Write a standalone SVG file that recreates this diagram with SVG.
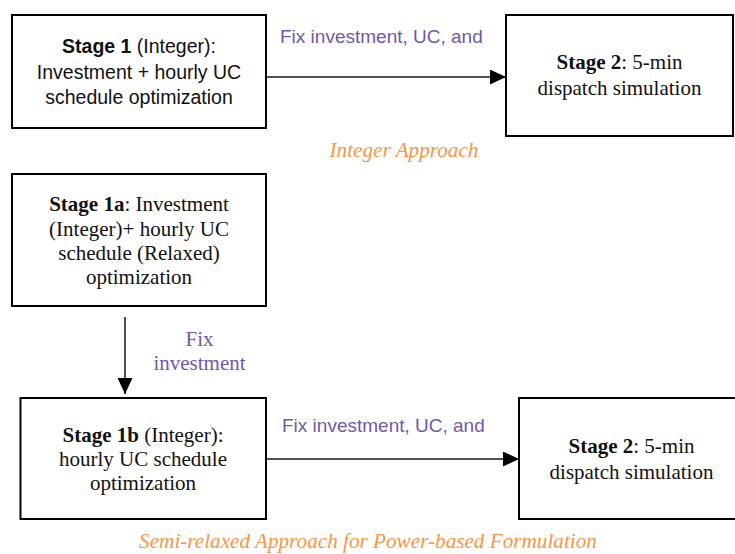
<svg xmlns="http://www.w3.org/2000/svg" width="735" height="554" viewBox="0 0 735 554">
  <style>
    .box { fill: #ffffff; stroke: #000000; stroke-width: 2; }
    .edge { fill: none; stroke: #1a1a1a; stroke-width: 1.5; }
    .sans { font-family: "Liberation Sans", Arial, sans-serif; font-size: 19.5px; fill: #111111; }
    .serif { font-family: "Liberation Serif", "Times New Roman", serif; font-size: 21px; fill: #111111; }
    .lbl-sans { font-family: "Liberation Sans", Arial, sans-serif; font-size: 19px; fill: #7258a8; }
    .lbl-serif { font-family: "Liberation Serif", "Times New Roman", serif; font-size: 21px; fill: #7258a8; }
    .caption { font-family: "Liberation Serif", "Times New Roman", serif; font-size: 21.2px; font-style: italic; fill: #f79646; }
    .mid { text-anchor: middle; }
  </style>
  <defs>
    <marker id="arrow" markerWidth="16" markerHeight="15" refX="16" refY="7.5" orient="auto" markerUnits="userSpaceOnUse">
      <path d="M0,0 L16,7.5 L0,15 Z" fill="#000000"/>
    </marker>
  </defs>

  <g id="connectors">
    <line class="edge" x1="267" y1="77" x2="506" y2="77" marker-end="url(#arrow)"/>
    <line class="edge" x1="125" y1="317" x2="125" y2="394" marker-end="url(#arrow)"/>
    <line class="edge" x1="267" y1="459" x2="519" y2="459" marker-end="url(#arrow)"/>
    <text class="lbl-sans" x="280" y="43">Fix investment, UC, and</text>
    <text class="lbl-serif mid" x="199.5" y="346">Fix</text>
    <text class="lbl-serif mid" x="199.5" y="370">investment</text>
    <text class="lbl-sans" x="282" y="432">Fix investment, UC, and</text>
  </g>

  <g id="stage1">
    <rect class="box" x="12" y="15" width="254" height="113"/>
    <text class="sans mid" x="139" y="53"><tspan font-weight="bold">Stage 1</tspan> (Integer):</text>
    <text class="sans mid" x="139" y="78.5">Investment + hourly UC</text>
    <text class="sans mid" x="139" y="104">schedule optimization</text>
  </g>

  <g id="stage2-integer">
    <rect class="box" x="506" y="15" width="227" height="121"/>
    <text class="serif mid" x="619.5" y="69"><tspan font-weight="bold">Stage 2</tspan>: 5-min</text>
    <text class="serif mid" x="619.5" y="95">dispatch simulation</text>
  </g>

  <text id="caption-integer" class="caption mid" x="404" y="157">Integer Approach</text>

  <g id="stage1a">
    <rect class="box" x="12" y="174" width="254" height="132"/>
    <text class="serif mid" x="139" y="211"><tspan font-weight="bold">Stage 1a</tspan>: Investment</text>
    <text class="serif mid" x="139" y="235.5">(Integer)+ hourly UC</text>
    <text class="serif mid" x="139" y="259.5">schedule (Relaxed)</text>
    <text class="serif mid" x="139" y="284">optimization</text>
  </g>

  <g id="stage1b">
    <rect class="box" x="20.5" y="398" width="245.5" height="121"/>
    <text class="serif mid" x="143" y="442"><tspan font-weight="bold">Stage 1b</tspan> (Integer):</text>
    <text class="serif mid" x="143" y="466">hourly UC schedule</text>
    <text class="serif mid" x="143" y="490">optimization</text>
  </g>

  <g id="stage2-semi">
    <rect class="box" x="519" y="398" width="225" height="121"/>
    <text class="serif mid" x="631.5" y="453"><tspan font-weight="bold">Stage 2</tspan>: 5-min</text>
    <text class="serif mid" x="631.5" y="479">dispatch simulation</text>
  </g>

  <text id="caption-semi" class="caption mid" x="368" y="548">Semi-relaxed Approach for Power-based Formulation</text>
</svg>
